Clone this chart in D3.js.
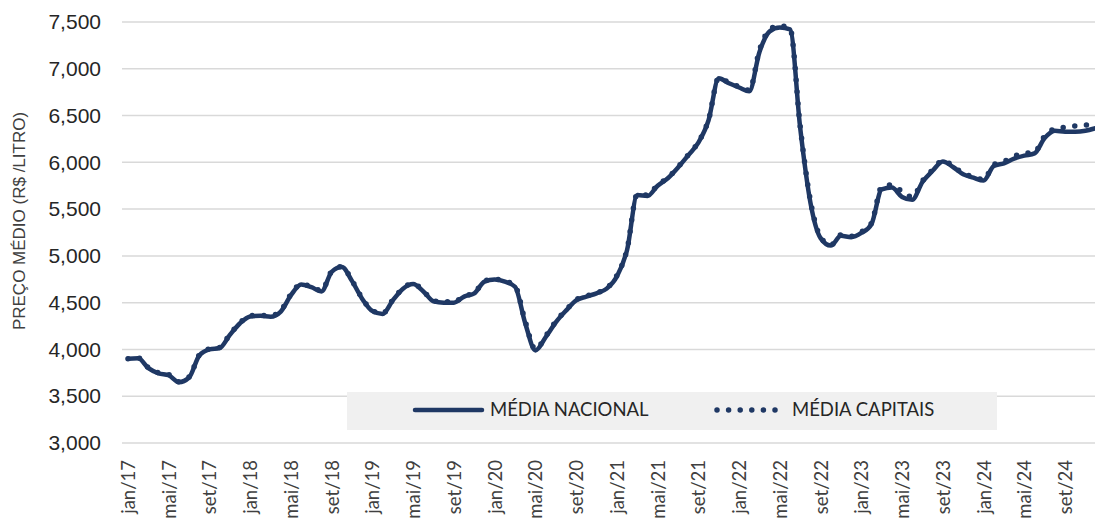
<!DOCTYPE html>
<html>
<head>
<meta charset="utf-8">
<script src="https://cdn.jsdelivr.net/npm/d3@7"></script>
<style>
  body { margin: 0; background: #fff; }
</style>
</head>
<body>
<div id="vis"></div>
<script>
var width = 1095;
var height = 525;

// monthly values, jan/17 .. dez/24
var nacional = [
  3900, 3905, 3800, 3745, 3724, 3650, 3700, 3935, 4000, 4015, 4155, 4280,
  4352, 4360, 4350, 4405, 4580, 4695, 4665, 4620, 4830, 4880, 4730, 4540,
  4410, 4380, 4525, 4650, 4700, 4620, 4515, 4500, 4500, 4565, 4600, 4725,
  4748, 4725, 4670, 4280, 3990, 4130, 4290, 4415, 4525, 4565, 4600, 4650,
  4780, 5063, 5650, 5640, 5750, 5830, 5945, 6075, 6210, 6450, 6900, 6845,
  6800, 6760, 7180, 7400, 7440, 7420, 6364, 5570, 5190, 5110, 5215, 5200,
  5245, 5340, 5710, 5730, 5630, 5600, 5790, 5910, 6010, 5950, 5872, 5836,
  5805, 5960, 5990, 6040, 6072, 6095, 6260, 6338, 6328, 6328, 6338, 6365
];
var capitais = [
  3900, 3910, 3805, 3750, 3730, 3655, 3705, 3940, 4005, 4020, 4160, 4285,
  4360, 4365, 4360, 4415, 4590, 4700, 4670, 4630, 4835, 4885, 4735, 4545,
  4415, 4385, 4530, 4655, 4705, 4625, 4520, 4510, 4510, 4570, 4605, 4730,
  4752, 4730, 4680, 4300, 4000, 4140, 4300, 4420, 4530, 4570, 4605, 4655,
  4790, 5070, 5660, 5650, 5760, 5835, 5950, 6080, 6215, 6455, 6905, 6850,
  6810, 6770, 7200, 7420, 7460, 7430, 6380, 5590, 5200, 5115, 5225, 5210,
  5255, 5350, 5740, 5760, 5690, 5630, 5800, 5920, 6020, 5960, 5880, 5845,
  5815, 5975, 6010, 6065, 6095, 6110, 6280, 6360, 6375, 6390, 6400, 6400
];
var tickLabels = [
  "jan/17", "mai/17", "set/17", "jan/18", "mai/18", "set/18",
  "jan/19", "mai/19", "set/19", "jan/20", "mai/20", "set/20",
  "jan/21", "mai/21", "set/21", "jan/22", "mai/22", "set/22",
  "jan/23", "mai/23", "set/23", "jan/24", "mai/24", "set/24"
];
var yTicks = [3000, 3500, 4000, 4500, 5000, 5500, 6000, 6500, 7000, 7500];
var seriesNames = ["MÉDIA NACIONAL", "MÉDIA CAPITAIS"];

var navy = "#1f3864";

var svg = d3.select("#vis")
  .append("svg")
  .attr("width", width)
  .attr("height", height)
  .style("background-color", "white");

var xScale = d3.scaleLinear()
  .domain([0, nacional.length - 1])
  .range([128, 1095.6]);

var yScale = d3.scaleLinear()
  .domain([3000, 7500])
  .range([443, 22]);

// grid
svg.append("g")
  .selectAll("line")
  .data(yTicks)
  .join("line")
  .attr("x1", 122)
  .attr("x2", width)
  .attr("y1", d => yScale(d))
  .attr("y2", d => yScale(d))
  .attr("stroke", "#d9d9d9")
  .attr("stroke-width", 1.5);

// y axis
var yAxis = d3.axisLeft(yScale)
  .tickValues(yTicks)
  .tickFormat(d3.format(","))
  .tickSize(0)
  .tickPadding(0);

var yg = svg.append("g")
  .attr("transform", "translate(101,0)")
  .call(yAxis);
yg.select(".domain").remove();
yg.selectAll("text")
  .style("font-family", "'Liberation Sans', Arial, sans-serif")
  .style("font-size", "21px")
  .style("fill", "#262626");

svg.append("text")
  .attr("transform", "translate(25,221) rotate(-90)")
  .attr("text-anchor", "middle")
  .style("font-family", "'Liberation Sans', Arial, sans-serif")
  .style("font-size", "17px")
  .style("fill", "#404040")
  .text("PREÇO MÉDIO (R$ /LITRO)");

// x axis
var xAxis = d3.axisBottom(xScale)
  .tickValues(tickLabels.map((d, i) => i * 4))
  .tickFormat((d, i) => tickLabels[i])
  .tickSize(0);

var xg = svg.append("g")
  .attr("transform", "translate(0,460)")
  .call(xAxis);
xg.select(".domain").remove();
xg.selectAll("text")
  .attr("transform", "rotate(-90)")
  .attr("text-anchor", "end")
  .attr("x", 0)
  .attr("y", 0)
  .attr("dx", "0")
  .attr("dy", "0.35em")
  .style("font-family", "Lato, 'Noto Sans', sans-serif")
  .style("font-size", "18.5px")
  .style("fill", "#404040");

// legend box
var legend = svg.append("g");
legend.append("rect")
  .attr("x", 347)
  .attr("y", 392)
  .attr("width", 650)
  .attr("height", 38)
  .attr("fill", "#f0f0f0");

// lines
var line = d3.line()
  .x((d, i) => xScale(i))
  .y(d => yScale(d))
  .curve(d3.curveMonotoneX);

svg.append("path")
  .datum(nacional)
  .attr("d", line)
  .attr("fill", "none")
  .attr("stroke", navy)
  .attr("stroke-width", 4.5)
  .attr("stroke-linejoin", "round")
  .attr("stroke-linecap", "round");

svg.append("path")
  .datum(capitais)
  .attr("d", line)
  .attr("fill", "none")
  .attr("stroke", navy)
  .attr("stroke-width", 5.5)
  .attr("stroke-dasharray", "0,11.7")
  .attr("stroke-linecap", "round");

// legend items
legend.append("line")
  .attr("x1", 415).attr("x2", 482)
  .attr("y1", 410).attr("y2", 410)
  .attr("stroke", navy)
  .attr("stroke-width", 4.5)
  .attr("stroke-linecap", "round");

legend.append("line")
  .attr("x1", 717).attr("x2", 776)
  .attr("y1", 410).attr("y2", 410)
  .attr("stroke", navy)
  .attr("stroke-width", 5.5)
  .attr("stroke-dasharray", "0,11.6")
  .attr("stroke-linecap", "round");

legend.selectAll("text.lbl")
  .data(seriesNames)
  .join("text")
  .attr("class", "lbl")
  .attr("x", (d, i) => i === 0 ? 490 : 792)
  .attr("y", 410)
  .attr("dy", "0.35em")
  .style("font-family", "Lato, 'Noto Sans', sans-serif")
  .style("font-size", "18.5px")
  .style("fill", "#262626")
  .text(d => d);
</script>
</body>
</html>
